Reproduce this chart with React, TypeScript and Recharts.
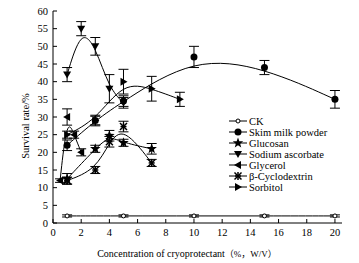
import { LineChart, Line, XAxis, YAxis, ErrorBar, Legend } from "recharts";

const FONT = "'Liberation Serif', 'Times New Roman', 'Noto Sans CJK SC', serif";

// x = concentration (%, W/V), y = survival rate (%), e = error
const ckX = [1, 5, 10, 15, 20];
const ckY = [2, 2, 2, 2, 2];
const ckE = [0.3, 0.3, 0.3, 0.3, 0.3];

const skimX = [1, 3, 5, 10, 15, 20];
const skimY = [22, 29, 34.5, 47, 44, 35];
const skimE = [1.5, 1.5, 1.5, 3, 2, 2.5];

const glucosanX = [1, 3, 4, 5, 7];
const glucosanY = [12.5, 21, 24.7, 22.7, 21];
const glucosanE = [1.5, 1, 1.5, 1, 1.5];

const ascorbateX = [1, 2, 3, 4, 5];
const ascorbateY = [42, 55, 50, 38, 34];
const ascorbateE = [2, 2, 2.5, 4, 1.5];

const glycerolX = [0.5, 1, 1.5, 2];
const glycerolY = [12, 30, 25, 20];
const glycerolE = [0.5, 2.3, 1, 1];

const cycloX = [1, 3, 4, 5, 7];
const cycloY = [12, 15, 23, 27.3, 17];
const cycloE = [1, 1, 1.5, 1.5, 1];

const sorbitolX = [1, 3, 5, 7, 9];
const sorbitolY = [25, 29, 40, 38, 35];
const sorbitolE = [1, 1.2, 3.5, 3.5, 2];

const xTicks = [0, 2, 4, 6, 8, 10, 12, 14, 16, 18, 20];
const yTicks = [0, 5, 10, 15, 20, 25, 30, 35, 40, 45, 50, 55, 60];

const rows = (xs: number[], ys: number[], es: number[]) =>
  xs.map((x, i) => ({ x, y: ys[i], e: es[i] }));

const series = [
  { name: "CK", shape: "open", data: rows(ckX, ckY, ckE) },
  { name: "Skim milk powder", shape: "circle", data: rows(skimX, skimY, skimE) },
  { name: "Glucosan", shape: "star", data: rows(glucosanX, glucosanY, glucosanE) },
  { name: "Sodium ascorbate", shape: "down", data: rows(ascorbateX, ascorbateY, ascorbateE) },
  { name: "Glycerol", shape: "left", data: rows(glycerolX, glycerolY, glycerolE) },
  { name: "β-Cyclodextrin", shape: "aster", data: rows(cycloX, cycloY, cycloE) },
  { name: "Sorbitol", shape: "right", data: rows(sorbitolX, sorbitolY, sorbitolE) },
];

function Marker({ shape, cx, cy }: any) {
  if (cx == null || cy == null) return null;
  switch (shape) {
    case "open":
      return <circle cx={cx} cy={cy} r={2} fill="#fff" stroke="#000" strokeWidth={1} />;
    case "circle":
      return <circle cx={cx} cy={cy} r={3.5} fill="#000" />;
    case "star": {
      const pts: string[] = [];
      for (let k = 0; k < 10; k++) {
        const r = k % 2 === 0 ? 5.5 : 2.3;
        const a = -Math.PI / 2 + (k * Math.PI) / 5;
        pts.push(`${cx + r * Math.cos(a)},${cy + r * Math.sin(a)}`);
      }
      return <polygon points={pts.join(" ")} fill="#000" />;
    }
    case "down":
      return <polygon points={`${cx - 4},${cy - 3} ${cx + 4},${cy - 3} ${cx},${cy + 4}`} fill="#000" />;
    case "left":
      return <polygon points={`${cx + 3},${cy - 4} ${cx + 3},${cy + 4} ${cx - 4},${cy}`} fill="#000" />;
    case "right":
      return <polygon points={`${cx - 3},${cy - 4} ${cx - 3},${cy + 4} ${cx + 4},${cy}`} fill="#000" />;
    case "aster":
      return (
        <g stroke="#000" strokeWidth={1.5}>
          <line x1={cx - 3.5} y1={cy - 3.5} x2={cx + 3.5} y2={cy + 3.5} />
          <line x1={cx - 3.5} y1={cy + 3.5} x2={cx + 3.5} y2={cy - 3.5} />
          <line x1={cx} y1={cy - 4} x2={cx} y2={cy + 4} />
          <line x1={cx - 3} y1={cy} x2={cx + 3} y2={cy} />
        </g>
      );
    default:
      return null;
  }
}

const renderLegend = () => (
  <svg width={130} height={82} style={{ display: "block" }}>
    {series.map((s, i) => (
      <g key={s.name} transform={`translate(0, ${6 + i * 11})`}>
        <line x1={4} x2={22} y1={0} y2={0} stroke="#000" strokeWidth={1} />
        <Marker shape={s.shape} cx={13} cy={0} />
        <text x={24} y={0} dy="0.35em" fontSize={10.5} fontFamily={FONT} fill="#000">
          {s.name}
        </text>
      </g>
    ))}
  </svg>
);

export default function App() {
  return (
    <div style={{ width: 359, height: 263, background: "#fff" }}>
      <style>{"body{margin:0}"}</style>
      <LineChart width={359} height={263} margin={{ top: 11, right: 17, left: 0, bottom: 0 }}>
        <XAxis
          type="number"
          dataKey="x"
          domain={[0, 20.5]}
          ticks={xTicks}
          height={40}
          stroke="#000"
          tickSize={-4}
          tickMargin={10}
          tick={{ fontSize: 10.5, fontFamily: FONT, fill: "#000" }}
          label={{
            content: () => (
              <text x={187} y={257} textAnchor="middle" fontSize={10} fontFamily={FONT} fill="#000">
                Concentration of cryoprotectant<tspan fontSize={9}>（%，W/V）</tspan>
              </text>
            ),
          }}
        />
        <YAxis
          type="number"
          dataKey="y"
          domain={[0, 60]}
          ticks={yTicks}
          width={53}
          stroke="#000"
          tickSize={-4}
          tickMargin={9}
          tick={{ fontSize: 10.5, fontFamily: FONT, fill: "#000" }}
          label={{
            content: () => (
              <text
                x={25}
                y={126}
                textAnchor="middle"
                dominantBaseline="central"
                transform="rotate(-90 25 126)"
                fontSize={10.5}
                fontFamily={FONT}
                fill="#000"
              >
                Survival rate/%
              </text>
            ),
          }}
        />
        <Legend
          layout="vertical"
          align="center"
          verticalAlign="middle"
          content={renderLegend}
          wrapperStyle={{ left: 225, top: 115, width: 130, height: 82 }}
        />
        {series.map((s) => (
          <Line
            key={s.name}
            name={s.name}
            data={s.data}
            dataKey="y"
            type="basis"
            stroke="#000"
            strokeWidth={1}
            isAnimationActive={false}
            dot={(p: any) => <Marker key={`${s.name}-${p.index}`} shape={s.shape} cx={p.cx} cy={p.cy} />}
            activeDot={false}
          >
            <ErrorBar dataKey="e" direction="y" width={5} stroke="#000" strokeWidth={1} />
          </Line>
        ))}
      </LineChart>
    </div>
  );
}
